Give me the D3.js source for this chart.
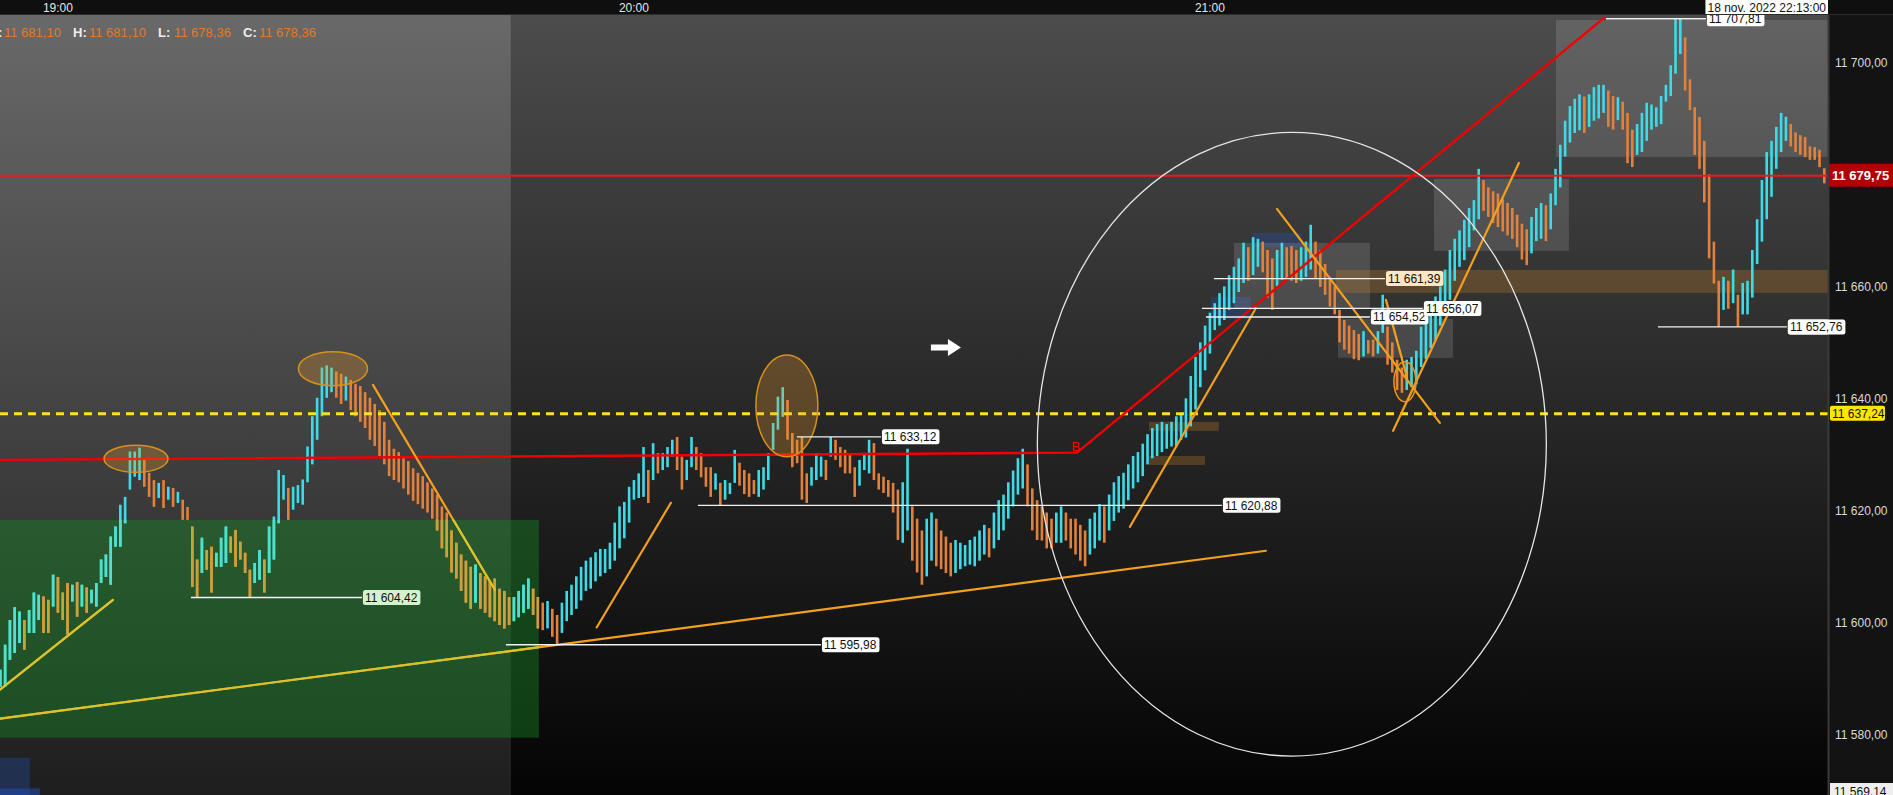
<!DOCTYPE html>
<html><head><meta charset="utf-8">
<script src="https://cdn.jsdelivr.net/npm/d3@7"></script>
<style>
body{margin:0;background:#111;overflow:hidden}
text{font-family:"Liberation Sans",Arial,sans-serif}
</style></head>
<body><svg id="c" width="1893" height="795"></svg>
<script>
// ---------------- DATA ----------------
const viewStart = "18:53:58", viewEnd = "22:04:23";
const sessionHighlightEnd = "19:47:11";
const firstBar = "18:54:00", barSeconds = 30;
const highs = [
11591.5,11596,11600.4,11602.7,11601.9,11600.4,11602.2,11605.3,11604.9,11604.6,
11604,11608.5,11608.1,11605.3,11607,11606.7,11607.2,11606.7,11606.2,11605.8,
11607,11611.2,11612.1,11615.3,11617.1,11621,11622.4,11630.5,11630.5,11631.2,
11629,11626.7,11625.4,11624.9,11625.4,11624.2,11624,11623.3,11621.9,11620.6,
11617.1,11611.2,11615.1,11612.9,11613.5,11612.4,11615.1,11617.1,11615.3,11616.5,
11614.4,11612.4,11609.4,11610.6,11612.9,11611.2,11617.1,11618.9,11627.2,11626.3,
11624,11624.2,11624.5,11625.5,11631.4,11636.8,11640.1,11645.5,11645.9,11645.5,
11644.8,11644.4,11643.9,11643.3,11642.6,11642.2,11641.1,11640.1,11639,11637.9,
11635.8,11632.6,11631,11630.4,11629.7,11628.8,11627.5,11626.7,11626.1,11625,
11623.9,11622.8,11620.7,11619.6,11616.4,11614.2,11612.1,11611,11609.9,11610.3,
11608.8,11608.2,11607.3,11607.8,11606,11605.6,11604.5,11604.5,11605.6,11606.7,
11607.8,11606,11604.5,11603.5,11603.8,11602.4,11601.3,11603.5,11605.6,11606.7,
11608.2,11609.9,11611,11611.6,11612.5,11613.1,11613.1,11614.2,11617.8,11620.7,
11621.5,11624.2,11625.4,11626.6,11631.3,11627.2,11632,11630.2,11630.2,11631.3,
11632.6,11633.1,11629.6,11629,11633.1,11631.3,11630.2,11627.7,11627.7,11626.6,
11624.9,11625.4,11624.9,11630.8,11628.5,11627.2,11626.6,11625.4,11627.2,11627.7,
11630.2,11635.6,11640.3,11642,11639.7,11633.8,11632.6,11633.1,11626.6,11627.7,
11630.2,11629.6,11629,11633.1,11632.6,11631.3,11630.8,11630.2,11627.7,11629,
11630.2,11632.6,11632,11626.6,11626,11625.4,11624.9,11623.7,11625,11631,
11620.7,11618.5,11616.4,11618.5,11619.6,11618.5,11616.4,11615.3,11614.2,11614.7,
11614.2,11613.8,11614.7,11615.3,11616.4,11617.4,11616.8,11619.6,11621.8,11622.8,
11625,11627.1,11629.3,11631,11628.2,11623.9,11621.8,11620.7,11619.6,11618.5,
11619.6,11620.7,11619.6,11618.5,11618.5,11617.4,11616.4,11618.5,11619.6,11621.1,
11620.7,11622.8,11625,11626.1,11626.7,11628.2,11629.7,11630.4,11631.9,11633.6,
11634.7,11635.4,11635.8,11635.4,11635.8,11636.8,11637.4,11640,11644,11647.4,
11650,11653,11655.3,11657,11658.8,11660,11662,11663.5,11665,11667.8,
11667,11668.8,11668.5,11668,11666.5,11665,11666.5,11667.8,11667,11667.2,
11666.5,11667,11668,11671,11668,11666.5,11664,11661.7,11660,11655.8,
11654,11653,11652.2,11651.5,11652,11650.4,11650.5,11652,11658.5,11652.8,
11650,11646.9,11645.5,11646.9,11647.4,11648.5,11652.8,11654,11656,11658.2,
11660,11663,11666.5,11668.5,11670,11671.9,11674,11675.4,11681,11679,
11677.7,11677,11676.6,11675.6,11674.9,11674,11672.8,11671.2,11670.2,11672.4,
11674,11674.9,11674.5,11676.6,11681,11685.3,11689.6,11692.2,11693.5,11694.3,
11693.9,11694.3,11695.6,11696,11696,11695,11694,11693.8,11693,11691,
11688,11689,11691,11692.8,11692.5,11692,11694,11696,11699.5,11707.8,
11707.8,11704.5,11697,11692,11690.3,11686,11680,11668,11661,11661.7,
11661,11663,11658.5,11660.6,11661,11666.5,11672,11679,11684,11686,
11688.5,11691,11690.3,11689,11687.5,11687,11686.7,11685,11684.9,11684.4,11681.1];
const lows = [
11588.5,11588.5,11593.3,11594.5,11596.3,11595.1,11598.1,11598.1,11600.4,11598.1,
11598.1,11602.8,11601.7,11600.4,11597.8,11603.7,11601,11602.8,11601.7,11603.4,
11602.8,11607,11608.1,11606.7,11613.5,11613.5,11617.7,11623.7,11626,11625.4,
11624.2,11622.4,11620.6,11622.2,11620.4,11621.9,11620.6,11621.3,11618.3,11618.3,
11606.3,11604.4,11608.8,11609.4,11605.3,11609.9,11609.9,11610.6,11612.4,11609.9,
11611.2,11608.8,11604.4,11607,11607.6,11605.3,11608.8,11611.2,11617.7,11621.9,
11618.3,11620.1,11621.3,11621,11625,11628.2,11632.6,11636.8,11640.1,11641.1,
11640.1,11639,11639.6,11637.9,11636.8,11635.8,11634.7,11632.6,11631.5,11629.7,
11628.2,11626.1,11625.4,11625,11623.9,11622.8,11621.7,11621.1,11620.3,11619.6,
11618.5,11616.4,11613.2,11611.6,11608.9,11607.8,11605.6,11603.5,11602.4,11603.5,
11602.4,11601.7,11600.9,11600.2,11599.5,11598.9,11599.5,11600.2,11600.9,11601.7,
11602.4,11601.3,11598.9,11598.6,11598.9,11597.4,11596,11598.1,11600.2,11601.3,
11602.4,11603.9,11605.6,11606,11607.3,11608.2,11608.8,11609.5,11611,11613.2,
11615,11617.8,11621.9,11622.2,11622.4,11621.3,11625.4,11626.6,11627.2,11627.7,
11629.6,11627.2,11623.7,11625.4,11627.7,11627.2,11625.9,11624.2,11622.4,11623.7,
11620.9,11621.9,11622.9,11624.9,11624.4,11622.9,11622.4,11622.9,11622.4,11623.7,
11625.4,11630.8,11634.4,11636.7,11632.6,11627.7,11628.4,11621.9,11621.3,11624.4,
11625.4,11626,11625.4,11629.6,11629,11627.7,11626.6,11626.6,11622.4,11624.4,
11627.2,11626.6,11625.4,11623.7,11623.1,11622.4,11619.6,11614.7,11614.2,11616.4,
11611,11608.9,11606.7,11608.2,11611,11610,11609.5,11608.8,11608.2,11608.8,
11609.5,11610,11610.3,11610,11611,11612.1,11611.6,11613.2,11614.7,11616.4,
11618.5,11620.7,11622.8,11623.9,11620.7,11616.4,11614.7,11614.6,11613.2,11613.2,
11614.2,11614.2,11614.6,11613.2,11612.1,11611,11610,11612.1,11613.2,11614.6,
11614.2,11616.4,11618.1,11619.6,11620.3,11621.8,11623.9,11625,11626.1,11628.2,
11629.3,11629.7,11630.4,11631,11631.4,11631.4,11632.6,11633,11635,11638,
11642,11645,11648,11652.2,11653,11654,11655.8,11657,11659,11660.6,
11661,11662,11663.5,11662.5,11658,11655.8,11660,11661.2,11661.5,11661,
11660.6,11661,11661.7,11663,11661.5,11659.9,11658.5,11656.4,11655,11650,
11648.7,11648,11647,11646.8,11647.5,11648,11647.5,11648,11651.7,11646,
11644.6,11641.5,11641,11641.5,11642,11642.5,11645.6,11647,11649,11650.4,
11653,11655,11657.6,11661,11663.5,11664.7,11667,11670,11672,11673.5,
11672.4,11671.3,11670.6,11669.8,11669.1,11668.5,11667,11664.8,11663.8,11665.9,
11668.1,11668.5,11668.1,11670.2,11674.5,11677.7,11683.2,11685.7,11687.4,11687.9,
11687.4,11688.5,11689.6,11690,11691,11688.5,11688,11689.7,11688,11682,
11681.3,11683.5,11684,11686,11688,11688.5,11689,11693,11694,11698,
11701.5,11695,11691.5,11683.5,11681,11675,11665,11660.5,11652.8,11655.8,
11656,11657,11652.8,11655,11655,11658,11664,11668,11672,11676,
11681,11684,11686,11685,11684,11683.5,11683.1,11682.6,11682.6,11681.3,11678.4];

const priceTicks = [11580,11600,11620,11640,11660,11680,11700];
const bottomPrice = 11569.14, topPrice = 11708.66;
const lastPrice = 11679.75, markedLevel = 11637.24;
const headerLabels = ["O:","H:","L:","C:"];
const headerValues = [11681.10,11681.10,11678.36,11678.36];
const crosshairTime = "18 nov. 2022 22:13:00";

// drawings (time, price)
const redTrend = [["18:53:58",11629.0],["20:46:09",11630.3],["21:41:09",11708.1]];
const redTrendTag = "B";
const orangeLines = [
 ["18:53:58",11587.95,"19:05:44",11604.0],
 ["18:53:58",11582.77,"21:05:50",11612.77],
 ["19:32:49",11642.41,"19:45:31",11605.8],
 ["19:56:07",11599.07,"20:03:51",11621.34],
 ["20:51:40",11617.05,"21:04:47",11656.1],
 ["21:06:59",11673.84,"21:23:57",11635.63],
 ["21:18:20",11657.59,"21:20:31",11643.84],
 ["21:19:05",11634.2,"21:32:11",11682.05]];
// [centre time, centre price, half-width minutes, half-height price]
const zoneEllipses = [
 ["19:08:08",11629.2,3.33,2.41],
 ["19:28:39",11645.3,3.6,3.04],
 ["20:15:56",11638.66,3.23,9.1]];
const ringEllipses = [["21:20:19",11642.95,1.15,3.57]];
const bigEllipse = ["21:08:32",11631.79,26.51,55.71];
// [start, end, price, tag kind]
const levels = [
 ["19:13:51","19:31:40",11604.42,"green"],
 ["19:46:40","20:19:29",11595.98,"white"],
 ["20:06:40","21:01:15",11620.88,"white"],
 ["20:16:59","20:25:44",11633.12,"white"],
 ["21:00:25","21:18:14",11661.39,"peach"],
 ["20:59:35","21:16:40",11654.52,"white"],
 ["20:59:10","21:22:11",11656.07,"white"],
 ["21:46:40","22:00:06",11652.76,"white"],
 ["21:41:15","21:51:40",11707.81,"white"]];
// [start, end, top price, bottom price]
const grayBoxes = [
 ["21:02:30","21:16:40",11667.77,11655.98],
 ["21:13:20","21:25:19",11654.2,11647.23],
 ["21:23:20","21:37:24",11679.2,11666.34],
 ["21:36:03","22:04:23",11707.6,11683.13]];
const blueBoxes = [
 ["21:04:29","21:09:35",11669.55,11667.05],
 ["21:00:06","21:04:16",11658.1,11654.2],
 ["18:53:58","18:57:05",11575.8,11569.14]];
const blueStrip = [["18:53:58","18:58:07",11570.3,11569.14]];
const brownBands = [
 ["21:13:08","22:04:23",11662.95,11658.84],
 ["20:53:39","21:00:56",11635.8,11634.2],
 ["20:53:39","20:59:29",11629.7,11628.1]];
const greenZone = ["18:53:58","19:50:06",11618.3,11579.38];
const arrowAt = ["20:32:30",11649.1];

// ---------------- SETUP ----------------
const W = 1893, H = 795, plotRight = 1828, plotTop = 15;
const parseT = d3.timeParse("%H:%M:%S");
const T = s => parseT(s);
const x = d3.scaleTime().domain([T(viewStart), T(viewEnd)]).range([0, plotRight]);
const y = d3.scaleLinear().domain([bottomPrice, topPrice]).range([H, 14]);
const fr = d3.formatLocale({decimal:",", thousands:" ", grouping:[3], currency:["","€"]});
const fmt = fr.format(",.2f");
const addMin = (d, m) => new Date(d.getTime() + m*60000);

const svg = d3.select("#c");
const defs = svg.append("defs");
function vGrad(id, c1, c2){
  const g = defs.append("linearGradient").attr("id", id)
    .attr("gradientUnits","userSpaceOnUse").attr("x1",0).attr("x2",0).attr("y1",plotTop).attr("y2",H);
  g.append("stop").attr("offset","0%").attr("stop-color",c1);
  g.append("stop").attr("offset","100%").attr("stop-color",c2);
}
vGrad("gLeft","#696969","#1e1e1e");
vGrad("gRight","#4c4c4c","#040404");
defs.append("clipPath").attr("id","clipPlot").append("rect")
  .attr("x",0).attr("y",plotTop).attr("width",plotRight).attr("height",H-plotTop);
const gz = {x0:x(T(greenZone[0])), x1:x(T(greenZone[1])), y0:y(greenZone[2]), y1:y(greenZone[3])};
defs.append("clipPath").attr("id","clipGreen").append("rect")
  .attr("x",gz.x0).attr("y",gz.y0).attr("width",gz.x1-gz.x0).attr("height",gz.y1-gz.y0);

svg.append("rect").attr("width",W).attr("height",H).attr("fill","#121212");
const plot = svg.append("g").attr("clip-path","url(#clipPlot)");
const xSess = x(T(sessionHighlightEnd));
plot.append("rect").attr("x",xSess).attr("y",plotTop).attr("width",plotRight-xSess).attr("height",H-plotTop).attr("fill","url(#gRight)");
plot.append("rect").attr("x",0).attr("y",plotTop).attr("width",xSess).attr("height",H-plotTop).attr("fill","url(#gLeft)");

function boxes(data, fill){
  plot.append("g").selectAll("rect").data(data).join("rect")
    .attr("x",d=>x(T(d[0]))).attr("width",d=>x(T(d[1]))-x(T(d[0])))
    .attr("y",d=>y(d[2])).attr("height",d=>y(d[3])-y(d[2])).attr("fill",fill);
}
boxes([greenZone], "rgba(20,135,35,0.42)");
boxes(blueBoxes, "rgba(40,80,170,0.35)");
boxes(blueStrip, "rgba(35,75,170,0.6)");
boxes(grayBoxes, "rgba(255,255,255,0.13)");
boxes(brownBands, "rgba(180,122,45,0.32)");

// ---------------- BARS ----------------
const bars = highs.map((h,i)=>({t:new Date(T(firstBar).getTime()+i*barSeconds*1000), hi:h, lo:lows[i],
  up: i===0 ? true : (h+lows[i]) >= (highs[i-1]+lows[i-1])}));
function drawBars(g, upC, downC){
  g.selectAll("line").data(bars).join("line")
    .attr("x1",d=>x(d.t)).attr("x2",d=>x(d.t))
    .attr("y1",d=>y(d.hi)).attr("y2",d=>Math.max(y(d.lo), y(d.hi)+2))
    .attr("stroke",d=>d.up?upC:downC).attr("stroke-width",2.6);
}
drawBars(plot.append("g"), "#3ddbe9", "#e3803a");
drawBars(plot.append("g").attr("clip-path","url(#clipGreen)"), "#4fe2c6", "#c8a23e");

// ---------------- LEVEL LINES ----------------
plot.append("line").attr("x1",0).attr("x2",plotRight).attr("y1",y(lastPrice)).attr("y2",y(lastPrice))
  .attr("stroke","#f01818").attr("stroke-width",2);
plot.append("line").attr("x1",0).attr("x2",plotRight).attr("y1",y(markedLevel)).attr("y2",y(markedLevel))
  .attr("stroke","#ffe21a").attr("stroke-width",3).attr("stroke-dasharray","8,6");

// red trend
plot.append("path").attr("d", d3.line().x(d=>x(T(d[0]))).y(d=>y(d[1]))(redTrend))
  .attr("fill","none").attr("stroke","#f20000").attr("stroke-width",2.4);
plot.append("text").attr("x",x(T(redTrend[1][0]))-1).attr("y",y(redTrend[1][1])-2)
  .attr("text-anchor","middle").attr("font-size",13).attr("fill","#f00").text(redTrendTag);

// orange lines
function drawOrange(g, col){
  g.selectAll("line").data(orangeLines).join("line")
    .attr("x1",d=>x(T(d[0]))).attr("y1",d=>y(d[1])).attr("x2",d=>x(T(d[2]))).attr("y2",d=>y(d[3]))
    .attr("stroke",col).attr("stroke-width",2.2).attr("stroke-linecap","round");
}
drawOrange(plot.append("g"), "#f4a01c");
drawOrange(plot.append("g").attr("clip-path","url(#clipGreen)"), "#d6c42c");

// ellipses
function ell(g, data, fill, stroke, sw){
  g.selectAll("ellipse").data(data).join("ellipse")
    .attr("cx",d=>x(T(d[0]))).attr("cy",d=>y(d[1]))
    .attr("rx",d=>x(addMin(T(d[0]),d[2]))-x(T(d[0])))
    .attr("ry",d=>y(d[1]-d[3])-y(d[1]))
    .attr("fill",fill).attr("stroke",stroke).attr("stroke-width",sw);
}
ell(plot.append("g"), zoneEllipses, "rgba(235,160,45,0.27)", "#d8901e", 1.5);
ell(plot.append("g"), ringEllipses, "rgba(235,160,45,0.1)", "#e8961e", 1.5);
ell(plot.append("g"), [bigEllipse], "none", "#e6e6e6", 1.3);

// horizontal level lines with tags
const tagBg = {white:"#ffffff", green:"#d4f3cc", peach:"#fde6c6"};
const lv = plot.append("g");
const lvTags = svg.append("g");
levels.forEach(d=>{
  const yy = y(d[2]), xa = x(T(d[0])), xb = x(T(d[1]));
  lv.append("line").attr("x1",xa).attr("x2",xb).attr("y1",yy).attr("y2",yy)
    .attr("stroke","#f2f2f2").attr("stroke-width",1.4);
  const g = lvTags.append("g");
  const r = g.append("rect").attr("x",xb+1).attr("y",yy-7.5).attr("height",15).attr("rx",2.5).attr("fill",tagBg[d[3]]);
  const t = g.append("text").attr("x",xb+3).attr("y",yy).attr("dy","0.36em").attr("font-size",12)
    .attr("fill","#111").text(fmt(d[2]));
  r.attr("width", t.node().getComputedTextLength()+5);
});

// arrow
svg.append("path").attr("transform",`translate(${x(T(arrowAt[0]))},${y(arrowAt[1])})`)
  .attr("d","M-15,-3 L2,-3 L2,-8.5 L15,0 L2,8.5 L2,3 L-15,3 Z").attr("fill","#fff");

// header
const hx = [-12, 73, 158, 243];
headerLabels.forEach((l,i)=>{
  svg.append("text").attr("x",hx[i]).attr("y",37).attr("font-size",13).attr("font-weight","bold")
    .attr("fill","#eeeeee").text(l);
  svg.append("text").attr("x",hx[i]+16).attr("y",37).attr("font-size",13)
    .attr("fill","#e27a28").text(fmt(headerValues[i]));
});

// ---------------- TIME STRIP ----------------
svg.append("rect").attr("x",0).attr("y",0).attr("width",W).attr("height",plotTop-1).attr("fill","#0f0f0f");
svg.append("line").attr("x1",0).attr("x2",W).attr("y1",plotTop-0.5).attr("y2",plotTop-0.5).attr("stroke","#2c2c2c");
const crossG = svg.append("g");
const crossR = crossG.append("rect").attr("y",0).attr("height",14).attr("fill","#fff");
const crossT = crossG.append("text").attr("y",11.5).attr("font-size",12).attr("fill","#111").text(crosshairTime);
const crossW = crossT.node().getComputedTextLength()+4;
crossR.attr("x",plotRight-crossW).attr("width",crossW);
crossT.attr("x",plotRight-crossW+2);
svg.insert("g", () => crossG.node()).selectAll("text")
  .data(x.ticks(d3.timeHour.every(1)).filter(d => x(d) + 20 < plotRight - crossW)).join("text")
  .attr("x",d=>x(d)).attr("y",11.5).attr("text-anchor","middle").attr("font-size",12)
  .attr("fill","#e4e4e4").text(d3.timeFormat("%H:%M"));

// ---------------- PRICE AXIS ----------------
svg.append("rect").attr("x",plotRight+1).attr("y",plotTop).attr("width",W-plotRight).attr("height",H-plotTop).attr("fill","#131313");
svg.append("line").attr("x1",plotRight+0.5).attr("x2",plotRight+0.5).attr("y1",plotTop).attr("y2",H)
  .attr("stroke","#3a3a3a").attr("stroke-width",2);
svg.append("g").selectAll("text").data(priceTicks.filter(d => Math.abs(y(d)-y(lastPrice)) > 12)).join("text")
  .attr("x",1835).attr("y",d=>y(d)).attr("dy","0.36em").attr("font-size",12)
  .attr("fill","#dadada").text(d=>fmt(d));
// tag re-draw for level that runs into the axis
{
  const d = levels[7]; const yy = y(d[2]), xb = x(T(d[1]));
  const g = svg.append("g");
  const r = g.append("rect").attr("x",xb+1).attr("y",yy-7.5).attr("height",15).attr("rx",2.5).attr("fill","#fff");
  const t = g.append("text").attr("x",xb+3).attr("y",yy).attr("dy","0.36em").attr("font-size",12).attr("fill","#111").text(fmt(d[2]));
  r.attr("width", t.node().getComputedTextLength()+5);
}
// last price
svg.append("path").attr("d",`M${plotRight+1},${y(lastPrice)-12} h${W-plotRight} v23 h-${W-plotRight} z`).attr("fill","#b20000");
svg.append("text").attr("x",1832).attr("y",y(lastPrice)-0.5).attr("dy","0.36em").attr("font-size",13)
  .attr("font-weight","bold").attr("fill","#fff").text(fmt(lastPrice));
// marked level
svg.append("rect").attr("x",1830).attr("y",y(markedLevel)-8).attr("width",55).attr("height",15).attr("rx",2).attr("fill","#ffe600");
svg.append("text").attr("x",1832).attr("y",y(markedLevel)-0.5).attr("dy","0.36em").attr("font-size",12)
  .attr("fill","#111").text(fmt(markedLevel));
// bottom price
svg.append("rect").attr("x",plotRight+2).attr("y",y(bottomPrice)-12).attr("width",W-plotRight).attr("height",14).attr("fill","#eeeeee");
svg.append("text").attr("x",1834).attr("y",y(bottomPrice)+0.5).attr("font-size",12)
  .attr("fill","#111").text(fmt(bottomPrice));
</script></body></html>
